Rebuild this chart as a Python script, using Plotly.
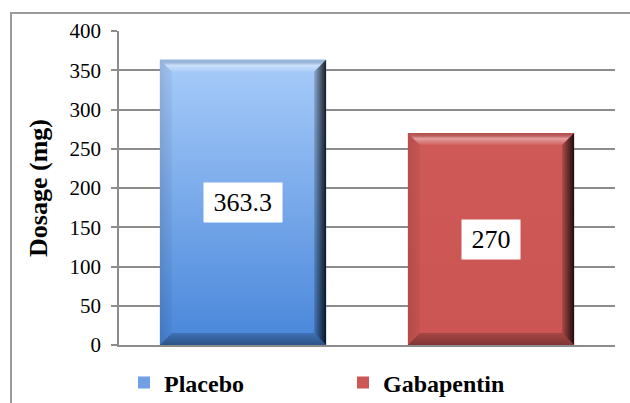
import plotly.graph_objects as go

# ---- data ----
categories = ["Placebo", "Gabapentin"]
values = [363.3, 270]
label_texts = ["363.3", "270"]
y_tick_vals = [0, 50, 100, 150, 200, 250, 300, 350, 400]
y_title = "Dosage (mg)"

# ---- styling ----
FONT = "Liberation Serif, Times New Roman, serif"
W, H = 630, 403
M = dict(l=119, r=15, t=31, b=58)
plot_w = W - M["l"] - M["r"]
plot_h = H - M["t"] - M["b"]
x_range = [-0.5, 1.5]
y_range = [0, 400]
bar_width = 0.67
bevel_px = 12
bx = bevel_px * (x_range[1] - x_range[0]) / plot_w
by = bevel_px * (y_range[1] - y_range[0]) / plot_h
GRID = "#8c8c8c"

solid_colors = {"Placebo": "#6f9fe4", "Gabapentin": "#cd5755"}
face_scales = {
    "Placebo": [[0, "#4886da"], [1, "#a8ccfa"]],
    "Gabapentin": [[0, "#cb5553"], [1, "#cf5957"]],
}
top_scale = [[0, "rgba(255,255,255,0.05)"], [0.55, "rgba(255,255,255,0.42)"], [1, "rgba(0,0,0,0.08)"]]
bottom_scale = [[0, "rgba(0,0,0,0.38)"], [1, "rgba(0,0,0,0.18)"]]
right_scale = [[0, "rgba(0,0,0,0.15)"], [1, "rgba(0,0,0,0.85)"]]
left_scale = [[0, "rgba(0,0,0,0.12)"], [1, "rgba(0,0,0,0.04)"]]

fig = go.Figure()

# real bar traces (legend / semantics)
for i, (cat, v) in enumerate(zip(categories, values)):
    fig.add_trace(go.Bar(
        x=[i], y=[v], name=cat, width=bar_width,
        marker=dict(color=solid_colors[cat], line=dict(width=0)),
        hoverinfo="name+y",
    ))


def poly(xs, ys, scale, gtype, start, stop):
    fig.add_trace(go.Scatter(
        x=xs + [xs[0]], y=ys + [ys[0]], mode="none", fill="toself",
        fillgradient=dict(type=gtype, colorscale=scale, start=start, stop=stop),
        showlegend=False, hoverinfo="skip",
    ))


# bevelled gradient faces drawn over the bars
for i, (cat, v) in enumerate(zip(categories, values)):
    L, R = i - bar_width / 2, i + bar_width / 2
    T, B = v, 0
    Li, Ri, Ti, Bi = L + bx, R - bx, T - by, B + by
    poly([L, R, R, L], [B, B, T, T], face_scales[cat], "vertical", B, T)
    poly([L, R, Ri, Li], [T, T, Ti, Ti], top_scale, "vertical", Ti, T)
    poly([L, R, Ri, Li], [B, B, Bi, Bi], bottom_scale, "vertical", B, Bi)
    poly([R, R, Ri, Ri], [T, B, Bi, Ti], right_scale, "horizontal", Ri, R)
    poly([L, L, Li, Li], [T, B, Bi, Ti], left_scale, "horizontal", L, Li)

# value labels
for i, (v, t) in enumerate(zip(values, label_texts)):
    fig.add_annotation(
        x=i, y=v / 2, text="\u00a0" + t + "\u00a0", showarrow=False,
        bgcolor="white", borderpad=3, height=33,
        font=dict(family=FONT, size=26, color="black"),
    )

# outer frame
fig.add_shape(
    type="rect", xref="paper", yref="paper",
    x0=(11 - M["l"]) / plot_w, x1=1.2,
    y0=-0.5, y1=(plot_h + M["t"] - 13) / plot_h,
    line=dict(color="#9a9a9a", width=2), layer="below",
)

fig.update_layout(
    width=W, height=H, margin=M,
    font=dict(family=FONT, color="black"),
    paper_bgcolor="white", plot_bgcolor="white",
    barmode="overlay", showlegend=True,
    legend=dict(
        orientation="h", xref="container", yref="container",
        x=124 / W, y=(H - 383) / H, xanchor="left", yanchor="middle",
        font=dict(family=FONT, size=24, color="black", weight="bold"),
        entrywidth=174, itemwidth=30, bgcolor="rgba(0,0,0,0)",
    ),
    xaxis=dict(
        range=x_range, showticklabels=False, ticks="", showgrid=False,
        zeroline=False, showline=True, linecolor=GRID, linewidth=1.5,
        automargin=False,
    ),
    yaxis=dict(
        range=y_range, tickvals=y_tick_vals, ticks="outside", ticklen=6,
        tickcolor=GRID, tickwidth=1.5, showline=True, linecolor=GRID, linewidth=1.5,
        showgrid=True, gridcolor=GRID, gridwidth=1.5, zeroline=False,
        tickfont=dict(family=FONT, size=21, color="black"), ticklabelstandoff=6,
        automargin=False,
        title=dict(text=y_title, standoff=14,
                   font=dict(family=FONT, size=26, color="black", weight="bold")),
    ),
)

fig.write_html("out.html")
